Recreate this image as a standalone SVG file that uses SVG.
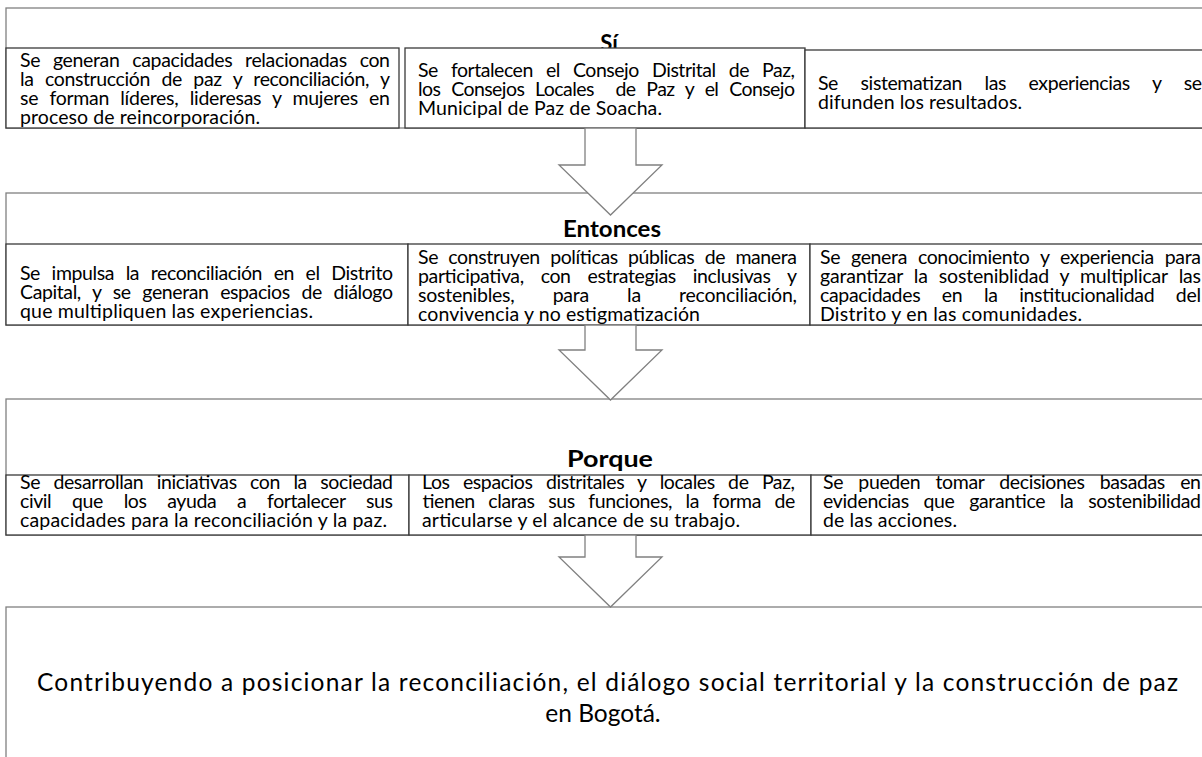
<svg xmlns="http://www.w3.org/2000/svg" width="1202" height="757" viewBox="0 0 1202 757">
<style>
.ob{fill:#fff;stroke:#808080;stroke-width:1.3}
.cell{fill:#fff;stroke:#3a3a3a;stroke-width:1.3}
.arr{fill:#fff;stroke:#808080;stroke-width:1.3;stroke-linejoin:miter}
text{font-family:Lato,"Liberation Sans",sans-serif;fill:#000}
.t{font-size:19.5px}
.h{font-size:22px;font-weight:bold;text-anchor:middle}
.b{font-size:24.5px}
</style>
<rect width="1202" height="757" fill="#fff"/>

<g id="sec-si">
<rect class="ob" x="6" y="8" width="1210" height="120"/>
<text class="h" x="609" y="51">Sí</text>
</g>
<g id="si-1">
<rect class="cell" x="6" y="48" width="393" height="80"/>
<text class="t"><tspan x="20" y="67" textLength="370" lengthAdjust="spacing" style="word-spacing:8.2px">Se generan capacidades relacionadas con</tspan><tspan x="20" y="86" textLength="370" lengthAdjust="spacing" style="word-spacing:6.9px">la construcción de paz y reconciliación, y</tspan><tspan x="20" y="105" textLength="370" lengthAdjust="spacing" style="word-spacing:6.5px">se forman líderes, lideresas y mujeres en</tspan><tspan x="20" y="124" textLength="240" lengthAdjust="spacing">proceso de reincorporación.</tspan></text>
</g>
<g id="si-2">
<rect class="cell" x="405" y="48" width="400" height="80"/>
<text class="t"><tspan x="418" y="77" textLength="377" lengthAdjust="spacing" style="word-spacing:8.6px">Se fortalecen el Consejo Distrital de Paz,</tspan><tspan x="418" y="96" textLength="377" lengthAdjust="spacing" style="word-spacing:6.4px">los Consejos Locales&#160; de Paz y el Consejo</tspan><tspan x="418" y="115" textLength="244" lengthAdjust="spacing">Municipal de Paz de Soacha.</tspan></text>
</g>
<g id="si-3">
<rect class="cell" x="805" y="50" width="411" height="78"/>
<text class="t"><tspan x="818" y="90" textLength="384" lengthAdjust="spacing" style="word-spacing:18px">Se sistematizan las experiencias y se</tspan><tspan x="818" y="109" textLength="204" lengthAdjust="spacing">difunden los resultados.</tspan></text>
</g>

<g id="sec-entonces">
<rect class="ob" x="6" y="193" width="1210" height="132"/>
<text class="h" x="612" y="237" textLength="98" lengthAdjust="spacingAndGlyphs">Entonces</text>
</g>
<g id="entonces-1">
<rect class="cell" x="6" y="244" width="402" height="81"/>
<text class="t"><tspan x="20" y="280" textLength="373" lengthAdjust="spacing" style="word-spacing:7px">Se impulsa la reconciliación en el Distrito</tspan><tspan x="20" y="299" textLength="373" lengthAdjust="spacing" style="word-spacing:7px">Capital, y se generan espacios de diálogo</tspan><tspan x="20" y="318" textLength="293" lengthAdjust="spacing">que multipliquen las experiencias.</tspan></text>
</g>
<g id="entonces-2">
<rect class="cell" x="408" y="244" width="402" height="81"/>
<text class="t"><tspan x="418" y="264" textLength="379" lengthAdjust="spacing" style="word-spacing:5.7px">Se construyen políticas públicas de manera</tspan><tspan x="418" y="283" textLength="379" lengthAdjust="spacing" style="word-spacing:12.3px">participativa, con estrategias inclusivas y</tspan><tspan x="418" y="302" textLength="379" lengthAdjust="spacing" style="word-spacing:33.4px">sostenibles, para la reconciliación,</tspan><tspan x="418" y="321" textLength="282" lengthAdjust="spacing">convivencia y no estigmatización</tspan></text>
</g>
<g id="entonces-3">
<rect class="cell" x="810" y="244" width="406" height="81"/>
<text class="t"><tspan x="820" y="264" textLength="381" lengthAdjust="spacing" style="word-spacing:6.3px">Se genera conocimiento y experiencia para</tspan><tspan x="820" y="283" textLength="381" lengthAdjust="spacing" style="word-spacing:6.3px">garantizar la sosteniblidad y multiplicar las</tspan><tspan x="820" y="302" textLength="381" lengthAdjust="spacing" style="word-spacing:16.9px">capacidades en la institucionalidad del</tspan><tspan x="820" y="321" textLength="262" lengthAdjust="spacing">Distrito y en las comunidades.</tspan></text>
</g>

<g id="sec-porque">
<rect class="ob" x="6" y="399" width="1210" height="136"/>
<text class="h" x="610" y="467" textLength="86" lengthAdjust="spacingAndGlyphs">Porque</text>
</g>
<g id="porque-1">
<rect class="cell" x="6" y="475" width="403" height="60"/>
<text class="t"><tspan x="20" y="489" textLength="373" lengthAdjust="spacing" style="word-spacing:8.7px">Se desarrollan iniciativas con la sociedad</tspan><tspan x="20" y="508" textLength="373" lengthAdjust="spacing" style="word-spacing:16.2px">civil que los ayuda a fortalecer sus</tspan><tspan x="20" y="527" textLength="367" lengthAdjust="spacing">capacidades para la reconciliación y la paz.</tspan></text>
</g>
<g id="porque-2">
<rect class="cell" x="409" y="475" width="402" height="60"/>
<text class="t"><tspan x="422" y="489" textLength="373" lengthAdjust="spacing" style="word-spacing:8.8px">Los espacios distritales y locales de Paz,</tspan><tspan x="422" y="508" textLength="373" lengthAdjust="spacing" style="word-spacing:8.9px">tienen claras sus funciones, la forma de</tspan><tspan x="422" y="527" textLength="318" lengthAdjust="spacing">articularse y el alcance de su trabajo.</tspan></text>
</g>
<g id="porque-3">
<rect class="cell" x="811" y="475" width="405" height="60"/>
<text class="t"><tspan x="823" y="489" textLength="378" lengthAdjust="spacing" style="word-spacing:10.7px">Se pueden tomar decisiones basadas en</tspan><tspan x="823" y="508" textLength="378" lengthAdjust="spacing" style="word-spacing:10px">evidencias que garantice la sostenibilidad</tspan><tspan x="823" y="527" textLength="134" lengthAdjust="spacing">de las acciones.</tspan></text>
</g>

<g id="resultado">
<rect class="ob" x="6" y="607" width="1210" height="160"/>
<text class="b"><tspan x="37" y="690.5" textLength="1141" lengthAdjust="spacing">Contribuyendo a posicionar la reconciliación, el diálogo social territorial y la construcción de paz</tspan><tspan x="603" y="721.5" text-anchor="middle">en Bogotá.</tspan></text>
</g>

<g id="connectors">
<polygon class="arr" points="585,128 636,128 636,165 662,165 610.5,215 559,165 585,165"/>
<polygon class="arr" points="585,325 636,325 636,350 662,350 610.5,400 559,350 585,350"/>
<polygon class="arr" points="585,535 636,535 636,557 662,557 610.5,607 559,557 585,557"/>
</g>
</svg>
